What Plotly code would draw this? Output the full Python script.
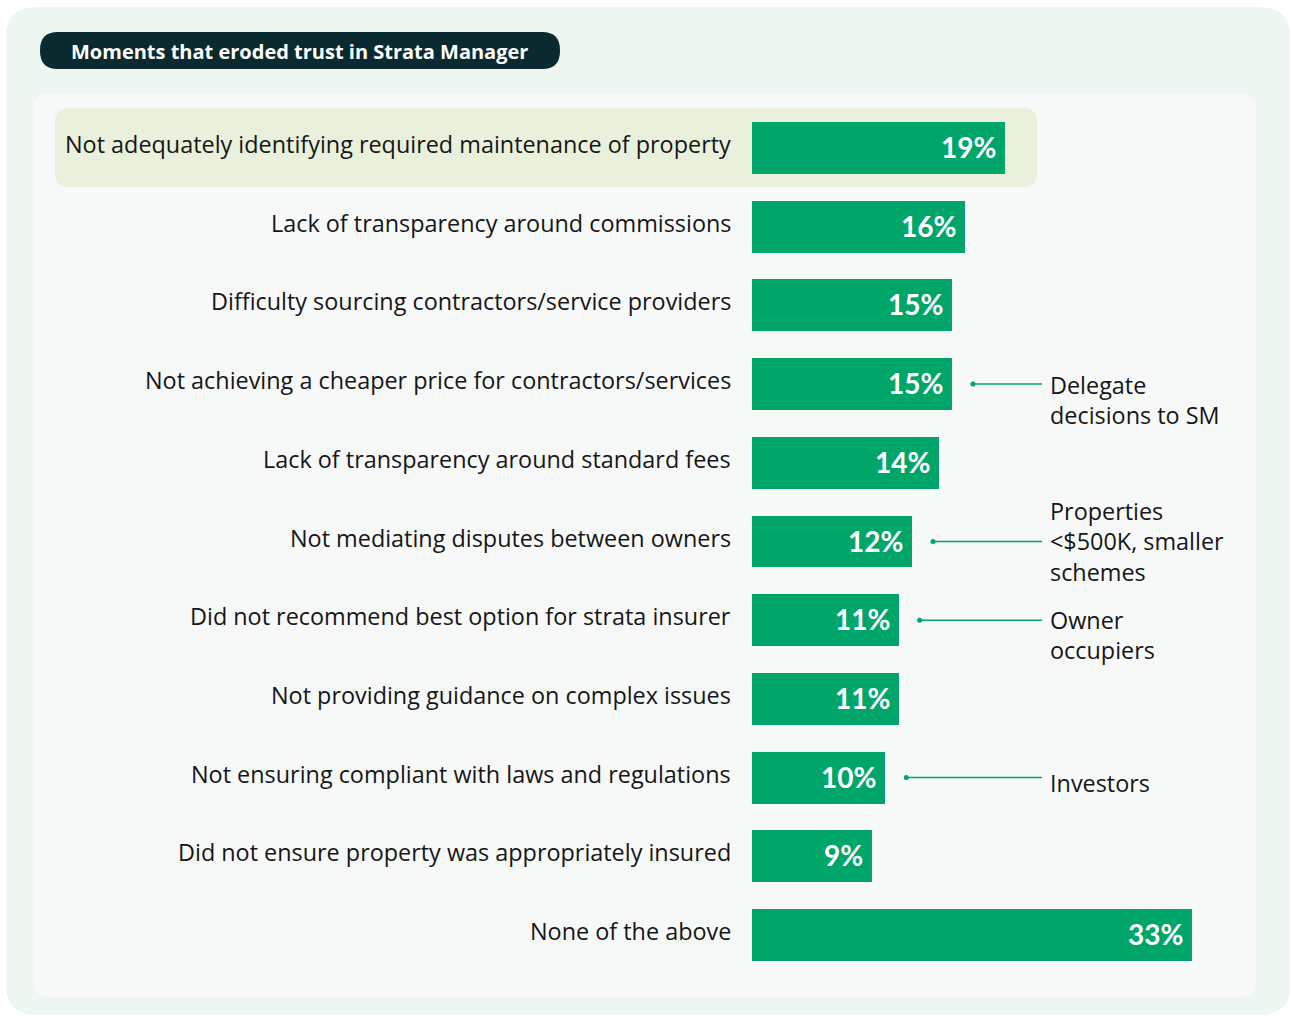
import plotly.graph_objects as go

# Survey results: moments that eroded trust in the strata manager
categories = [
    "Not adequately identifying required maintenance of property",
    "Lack of transparency around commissions",
    "Difficulty sourcing contractors/service providers",
    "Not achieving a cheaper price for contractors/services",
    "Lack of transparency around standard fees",
    "Not mediating disputes between owners",
    "Did not recommend best option for strata insurer",
    "Not providing guidance on complex issues",
    "Not ensuring compliant with laws and regulations",
    "Did not ensure property was appropriately insured",
    "None of the above",
]
values = [19, 16, 15, 15, 14, 12, 11, 11, 10, 9, 33]

# Segment call-outs: (row index, label)
callout_rows = [3, 5, 6, 8]
callout_texts = [
    "Delegate<br>decisions to SM",
    "Properties<br>&lt;$500K, smaller<br>schemes",
    "Owner<br>occupiers",
    "Investors",
]

title = "Moments that eroded trust in Strata Manager"

W, H = 1292, 1016
GREEN = "#00a669"
DARK = "#0b2a2f"
TEXT = "#161616"
FONT = "Open Sans"
NUM_FONT = "Lato"
LABEL_SIZE = 23.4

# pixel geometry of the chart area
x0_px = 752            # left edge of bars
px_per_pct = 13.33
row0_px = 148          # centre of first row
row_step = 78.7        # distance between rows


def fx(px):
    return px / W


def fy(py):
    return 1 - py / H


def rounded_rect(x0, y0, x1, y1, r):
    """Rounded rectangle path in paper coords from pixel corners."""
    pts = [
        f"M {fx(x0 + r)} {fy(y0)}",
        f"L {fx(x1 - r)} {fy(y0)}",
        f"Q {fx(x1)} {fy(y0)} {fx(x1)} {fy(y0 + r)}",
        f"L {fx(x1)} {fy(y1 - r)}",
        f"Q {fx(x1)} {fy(y1)} {fx(x1 - r)} {fy(y1)}",
        f"L {fx(x0 + r)} {fy(y1)}",
        f"Q {fx(x0)} {fy(y1)} {fx(x0)} {fy(y1 - r)}",
        f"L {fx(x0)} {fy(y0 + r)}",
        f"Q {fx(x0)} {fy(y0)} {fx(x0 + r)} {fy(y0)}",
        "Z",
    ]
    return " ".join(pts)


x_max = (W - x0_px) / px_per_pct
y_top = -row0_px / row_step
y_bot = (H - row0_px) / row_step

fig = go.Figure()

fig.add_trace(go.Bar(
    x=values,
    y=categories,
    orientation="h",
    marker=dict(color=GREEN, line=dict(width=0)),
    width=0.66,
    hoverinfo="skip",
))

annotations = []
for cat, v in zip(categories, values):
    # category label, right-aligned left of the bar
    annotations.append(dict(
        x=0, y=cat, xref="x", yref="y",
        text=cat, showarrow=False,
        xanchor="right", yanchor="middle", xshift=-19, yshift=4,
        font=dict(family=FONT, size=LABEL_SIZE, color=TEXT),
    ))
    # value label inside the bar end
    annotations.append(dict(
        x=v, y=cat, xref="x", yref="y",
        text=f"<b>{v}%</b>", showarrow=False,
        xanchor="right", yanchor="middle", xshift=-7, yshift=1,
        font=dict(family=NUM_FONT, size=28, color="white"),
    ))

# call-out connectors and labels
line_end_px = 1042
text_shift = {3: 16, 5: 0, 6: 15, 8: 5}
for idx, txt in zip(callout_rows, callout_texts):
    v = values[idx]
    start = v + 21 / px_per_pct
    end = (line_end_px - x0_px) / px_per_pct
    fig.add_trace(go.Scatter(
        x=[start, end], y=[categories[idx], categories[idx]],
        mode="lines", line=dict(color=GREEN, width=1.5),
        hoverinfo="skip",
    ))
    fig.add_trace(go.Scatter(
        x=[start], y=[categories[idx]],
        mode="markers", marker=dict(color=GREEN, size=5),
        hoverinfo="skip",
    ))
    annotations.append(dict(
        x=fx(1048), y=categories[idx], xref="paper", yref="y",
        text=txt, showarrow=False, align="left",
        xanchor="left", yanchor="middle", yshift=-text_shift[idx],
        font=dict(family=FONT, size=LABEL_SIZE, color=TEXT),
    ))

# title pill text
annotations.append(dict(
    x=fx(69), y=fy(51), xref="paper", yref="paper",
    text=f"<b>{title}</b>", showarrow=False,
    xanchor="left", yanchor="middle",
    font=dict(family=FONT, size=20, color="white"),
))

shapes = [
    dict(type="path", xref="paper", yref="paper", layer="below",
         path=rounded_rect(6, 7, 1290, 1015, 30),
         fillcolor="#edf6f0", line=dict(width=0)),
    dict(type="path", xref="paper", yref="paper", layer="below",
         path=rounded_rect(33, 94, 1256, 997, 16),
         fillcolor="#f7f9f8", line=dict(width=0)),
    dict(type="path", xref="paper", yref="paper", layer="below",
         path=rounded_rect(55, 108, 1037, 187, 14),
         fillcolor="#e9f1dc", line=dict(width=0)),
    dict(type="path", xref="paper", yref="paper", layer="below",
         path=rounded_rect(40, 32, 560, 69, 18),
         fillcolor=DARK, line=dict(width=0)),
]

fig.update_layout(
    width=W, height=H,
    margin=dict(l=0, r=0, t=0, b=0),
    paper_bgcolor="white",
    plot_bgcolor="rgba(0,0,0,0)",
    showlegend=False,
    shapes=shapes,
    annotations=annotations,
    bargap=0,
)

fig.update_xaxes(
    domain=[fx(x0_px), 1], range=[0, x_max],
    visible=False, fixedrange=True,
)
fig.update_yaxes(
    domain=[0, 1], range=[y_bot, y_top],
    type="category", categoryorder="array", categoryarray=categories,
    showgrid=False, zeroline=False, showline=False, ticks="",
    showticklabels=False, fixedrange=True,
)

fig.write_html("out.html")
